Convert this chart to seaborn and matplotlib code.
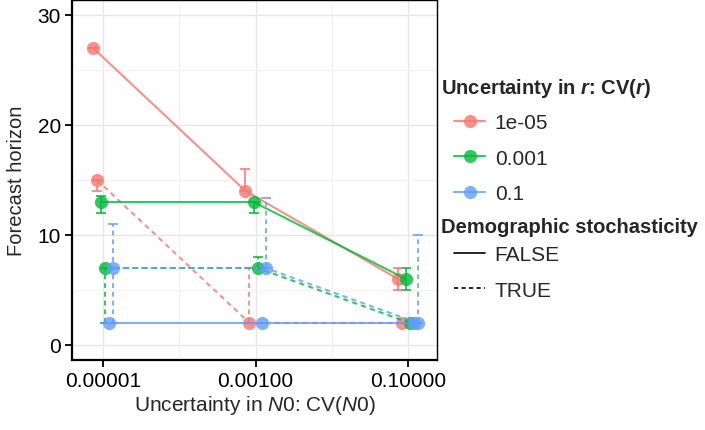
import numpy as np
import pandas as pd
import matplotlib
matplotlib.use("Agg")
import matplotlib.pyplot as plt
from matplotlib.lines import Line2D
import seaborn as sns

# -------------------------------
# Data
# -------------------------------
cv_n0 = [1e-5, 1e-3, 1e-1]
cv_r_levels = ["1e-05", "0.001", "0.1"]
demo_levels = ["FALSE", "TRUE"]

# forecast horizon (median) and interval per CV(r) / demographic stochasticity
horizon = {
    ("1e-05", "FALSE"): [27, 14, 6],
    ("1e-05", "TRUE"): [15, 2, 2],
    ("0.001", "FALSE"): [13, 13, 6],
    ("0.001", "TRUE"): [7, 7, 2],
    ("0.1", "FALSE"): [2, 2, 2],
    ("0.1", "TRUE"): [7, 7, 2],
}
lower = {
    ("1e-05", "FALSE"): [27, 14, 5],
    ("1e-05", "TRUE"): [14, 2, 2],
    ("0.001", "FALSE"): [12, 12, 5],
    ("0.001", "TRUE"): [2, 7, 2],
    ("0.1", "FALSE"): [2, 2, 2],
    ("0.1", "TRUE"): [2, 7, 2],
}
upper = {
    ("1e-05", "FALSE"): [27, 16, 7],
    ("1e-05", "TRUE"): [15, 7, 2],
    ("0.001", "FALSE"): [13.5, 13, 7],
    ("0.001", "TRUE"): [7, 8, 2],
    ("0.1", "FALSE"): [2, 2, 2],
    ("0.1", "TRUE"): [11, 13.4, 10],
}

palette = {"1e-05": "#F8766D", "0.001": "#00BA38", "0.1": "#619CFF"}

# -------------------------------
# Build a long table, dodging groups on the log axis
# -------------------------------
rows = []
dodge_step = 0.0525  # decades between dodged groups
k = 0
for r in cv_r_levels:
    for d in demo_levels:
        off = (k - 2.5) * dodge_step
        for i, x in enumerate(cv_n0):
            rows.append({
                "cv_n0": x,
                "x_dodge": x * 10 ** off,
                "cv_r": r,
                "demo": d,
                "horizon": horizon[(r, d)][i],
                "lo": lower[(r, d)][i],
                "hi": upper[(r, d)][i],
            })
        k += 1
df = pd.DataFrame(rows)

# -------------------------------
# Style
# -------------------------------
sns.set_theme(style="whitegrid")
plt.rcParams["font.family"] = ["Liberation Sans", "DejaVu Sans"]
plt.rcParams["mathtext.fontset"] = "custom"
plt.rcParams["mathtext.it"] = "Liberation Sans:italic:bold"
plt.rcParams["mathtext.sf"] = "Liberation Sans:italic"
plt.rcParams["mathtext.rm"] = "Liberation Sans"

fig = plt.figure(figsize=(7.05, 4.31), dpi=100)
ax = fig.add_axes([72 / 705, 1 - 361 / 431, (437 - 72) / 705, 360 / 431])

# error bars first, lines + points on top
for (r, d), g in df.groupby(["cv_r", "demo"]):
    eb = ax.errorbar(g["x_dodge"], g["horizon"],
                     yerr=[g["horizon"] - g["lo"], g["hi"] - g["horizon"]],
                     fmt="none", ecolor=palette[r], elinewidth=1.4,
                     capsize=3.5, capthick=1.4, alpha=0.8, zorder=2)
    if d == "TRUE":
        for lc in eb[2]:
            lc.set_linestyle((0, (2.5, 2)))

sns.lineplot(data=df, x="x_dodge", y="horizon", hue="cv_r", style="demo",
             hue_order=cv_r_levels, style_order=demo_levels, palette=palette,
             markers={"FALSE": "o", "TRUE": "o"},
             dashes={"FALSE": "", "TRUE": (2.5, 2)},
             markersize=9.5, markeredgewidth=0, linewidth=1.5, alpha=0.8,
             estimator=None, sort=True, legend=False, ax=ax, zorder=3)

ax.set_xscale("log")
ax.set_xlim(10 ** -5.4066, 10 ** -0.6197)
ax.set_ylim(-1.364, 31.36)
ax.set_xticks(cv_n0)
ax.set_xticklabels(["0.00001", "0.00100", "0.10000"])
ax.set_xticks([1e-4, 1e-2], minor=True)
ax.set_yticks([0, 10, 20, 30])
ax.set_yticks([5, 15, 25], minor=True)
ax.xaxis.set_minor_formatter(matplotlib.ticker.NullFormatter())

ax.grid(which="major", color="#E6E6E6", linewidth=1.0)
ax.grid(which="minor", color="#F2F2F2", linewidth=0.8)
ax.set_facecolor("white")
for s in ax.spines.values():
    s.set_color("black")
    s.set_linewidth(1.0)
ax.spines["left"].set_linewidth(1.6)
ax.spines["bottom"].set_linewidth(1.6)

ax.tick_params(axis="both", which="major", direction="out", length=5,
               width=1.3, color="black", labelsize=15, labelcolor="black",
               bottom=True, left=True, pad=3)
ax.tick_params(axis="both", which="minor", length=0)

ax.set_xlabel(r"Uncertainty in $\mathsf{N}$0: CV($\mathsf{N}$0)", fontsize=15, labelpad=2)
ax.set_ylabel("Forecast horizon", fontsize=14.5, labelpad=8)

# -------------------------------
# Legends
# -------------------------------
fig.text(441 / 705, 1 - 88 / 431, r"Uncertainty in $\mathit{r}$: CV($\mathit{r}$)",
         fontsize=14.5, fontweight="bold", va="center", ha="left")
h1 = [Line2D([], [], color=palette[r], marker="o", markersize=9.5,
             markeredgewidth=0, linewidth=1.5, alpha=0.8) for r in cv_r_levels]
leg1 = fig.legend(h1, cv_r_levels, loc="upper left",
                  bbox_to_anchor=(454 / 705, 1 - 114 / 431), frameon=False,
                  fontsize=15, handlelength=1.5, handletextpad=0.45,
                  labelspacing=0.8, borderpad=0, borderaxespad=0)

fig.text(441 / 705, 1 - 228 / 431, "Demographic stochasticity",
         fontsize=14.5, fontweight="bold", va="center", ha="left")
h2 = [Line2D([], [], color="black", linewidth=1.2),
      Line2D([], [], color="black", linewidth=1.2, dashes=(2.5, 2))]
leg2 = fig.legend(h2, demo_levels, loc="upper left",
                  bbox_to_anchor=(454 / 705, 1 - 246 / 431), frameon=False,
                  fontsize=15, handlelength=1.5, handletextpad=0.45,
                  labelspacing=0.8, borderpad=0, borderaxespad=0)

fig.savefig("out.png", dpi=100)
